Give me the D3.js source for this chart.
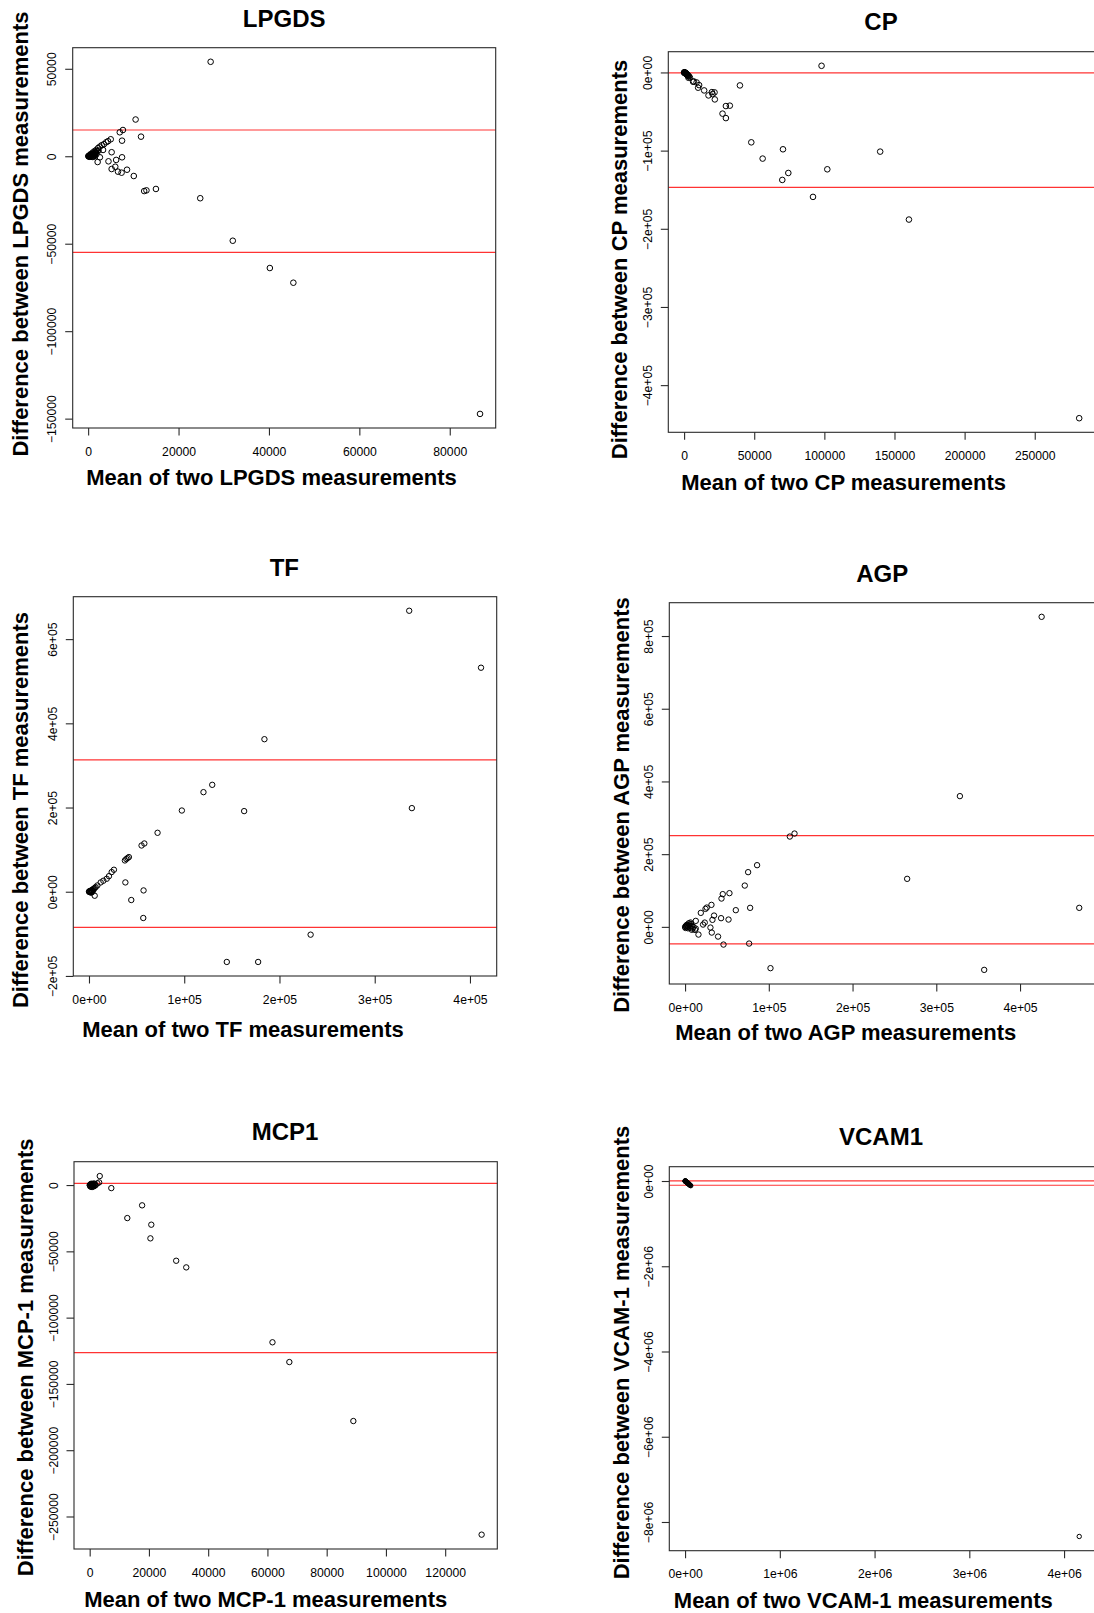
<!DOCTYPE html>
<html><head><meta charset="utf-8">
<script src="https://cdn.jsdelivr.net/npm/d3@7"></script>
<style>
html,body{margin:0;padding:0;background:#fff;}
svg{display:block;font-family:"Liberation Sans",Arial,Helvetica,sans-serif;}
</style></head>
<body><svg id="c" width="1094" height="1613"></svg>
<script>
// ---------- DATA: [mean of two measurements, difference] ----------
const lpgdsPoints = [[27100,54000],[10500,21000],[11700,11200],[7700,15000],[7000,13700],[7500,8900],[5000,9700],[4400,8600],[4000,8000],[3500,6900],[3000,6300],[2600,5500],[2200,4700],[1800,3600],[1400,2900],[1000,2100],[500,1100],[3300,3600],[5200,2300],[7500,-600],[2600,-600],[4500,-2900],[6200,-2100],[2100,-3300],[6000,-6000],[5200,-7300],[8600,-7700],[6600,-8800],[7400,-9400],[10100,-11300],[12400,-19900],[12900,-19500],[15000,-18700],[24800,-24000],[32000,-48300],[40200,-63900],[45400,-72300],[86700,-147300],
[100,100],[200,300],[300,200],[400,600],[500,400],[600,900],[700,500],[800,1200],[900,800],[1000,1400],[1100,1000],[1200,1700],[1300,1300],[1500,2000],[1600,1600],[1700,2400],[150,-200],[350,-300],[600,-100],[900,-400],[1200,-300],[1500,200],[1800,1000],[2000,2800],[2300,3200],[250,0],[50,50],[750,0],[1300,600]];
const cpPoints = [[98000,8500],[39800,-16600],[29800,-43000],[32600,-42500],[27400,-52700],[29800,-58400],[47900,-89400],[56000,-110200],[70500,-98300],[139800,-101300],[102100,-123900],[74300,-128600],[70000,-137500],[91900,-159200],[160300,-188200],[281700,-442300],[21900,-34500],[19800,-25200],[21700,-25500],[20300,-27700],[17400,-29400],[14300,-23000],[10000,-19500],[10700,-16200],[8900,-12800],[6900,-11500],[6400,-11900],[4100,-6400],[3100,-6800],
[0,0],[300,-300],[600,-600],[900,-1200],[1200,-1500],[1500,-2000],[1800,-2500],[2100,-3000],[2400,-3600],[2700,-4000],[200,200],[500,-100],[800,-500],[1000,-900],[1300,-1000],[1600,-1800],[2000,-2200],[2500,-3300],[3000,-4500],[3500,-5000],[100,-400],[700,-200],[1100,-700]];
const tfPoints = [[336200,667400],[411600,532100],[184200,362300],[129400,253900],[120200,236500],[97500,192900],[162900,191500],[339000,198600],[72000,140000],[58100,114600],[55200,109800],[41900,82300],[39200,77600],[37700,74300],[40500,80000],[26200,52200],[23800,46700],[21000,37000],[18600,30800],[15100,26100],[12300,22100],[8800,14900],[38200,22100],[57300,3100],[44400,-19700],[57000,-62400],[232700,-102000],[144700,-166800],[177600,-166800],[6000,-9500],
[0,0],[1000,1000],[2000,2500],[3000,4000],[4000,5500],[5000,7000],[1500,-1000],[2500,500],[3500,2000],[500,-500],[4500,3000],[6000,9000],[7000,11000],[500,1500],[2000,-2000],[3000,-1500]];
const agpPoints = [[425800,852800],[328200,359600],[265200,132100],[470700,52300],[357200,-118300],[102000,-113600],[130700,256700],[125100,248400],[86000,169700],[75300,150500],[71300,113600],[77700,52300],[76500,-45900],[45900,-48700],[53000,92700],[45000,90000],[43500,77900],[60600,45900],[51900,20100],[43000,23900],[31500,60500],[25900,53100],[24400,49500],[18800,38500],[34600,31100],[32700,19300],[23500,11800],[21500,6300],[12800,16500],[12800,-4700],[30300,-1900],[31900,-15700],[39400,-26700],[16000,-21200],[11900,-8300],
[0,0],[1000,2000],[2000,-1000],[3000,3000],[4000,1000],[5000,5000],[6000,-2000],[7000,8000],[8000,3000],[9000,-5000],[500,-3000],[1500,4000],[2500,6000],[3500,-4000],[4500,10000],[6500,12000],[8000,-8000],[10000,0]];
const mcp1Points = [[3400,6800],[7300,-2300],[17700,-15300],[12700,-24900],[20800,-29900],[20500,-40200],[29200,-57100],[32600,-62100],[61700,-118600],[67400,-133500],[89000,-178000],[132300,-263700],[2600,1300],[3200,2000],
[0,0],[300,500],[600,-500],[900,300],[1200,-800],[1500,600],[1800,-300],[200,-1000],[500,1000],[800,-1500],[1100,200],[1400,-1000],[1700,900],[2000,0],[100,-200],[400,-1200],[700,700],[1000,-400],[1300,1200]];
const vcamPoints = [[4160000,-8340000],
[0,0],[3000,-4000],[6000,-9000],[9000,-14000],[12000,-19000],[15000,-25000],[18000,-30000],[21000,-36000],[24000,-42000],[27000,-47000],[30000,-53000],[33000,-58000],[36000,-64000],[39000,-70000],[42000,-76000],[45000,-82000],[48000,-88000],[51000,-95000],[55000,-102000],[60000,-110000],[1500,-1000],[4500,-6000],[7500,-12000],[10500,-17000],[2000,2000],[5000,-2000],[8000,-8000],[13000,-16000],[20000,-28000],[26000,-40000],[35000,-55000]];

// limits of agreement (red lines)
const lpgdsLimits = [15000, -55000];
const cpLimits = [-500, -147000];
const tfLimits = [313000, -84700];
const agpLimits = [251200, -46800];
const mcp1Limits = [1200, -126400];
const vcamLimits = [5000, -100000];

// ticks
const lpgdsXTicks = [0,20000,40000,60000,80000];
const lpgdsXLabels = ["0","20000","40000","60000","80000"];
const lpgdsYTicks = [-150000,-100000,-50000,0,50000];
const lpgdsYLabels = ["\u2212150000","\u2212100000","\u221250000","0","50000"];
const cpXTicks = [0,50000,100000,150000,200000,250000];
const cpXLabels = ["0","50000","100000","150000","200000","250000"];
const cpYTicks = [-400000,-300000,-200000,-100000,0];
const cpYLabels = ["\u22124e+05","\u22123e+05","\u22122e+05","\u22121e+05","0e+00"];
const tfXTicks = [0,100000,200000,300000,400000];
const tfXLabels = ["0e+00","1e+05","2e+05","3e+05","4e+05"];
const tfYTicks = [-200000,0,200000,400000,600000];
const tfYLabels = ["\u22122e+05","0e+00","2e+05","4e+05","6e+05"];
const agpXTicks = [0,100000,200000,300000,400000];
const agpXLabels = ["0e+00","1e+05","2e+05","3e+05","4e+05"];
const agpYTicks = [0,200000,400000,600000,800000];
const agpYLabels = ["0e+00","2e+05","4e+05","6e+05","8e+05"];
const mcp1XTicks = [0,20000,40000,60000,80000,100000,120000];
const mcp1XLabels = ["0","20000","40000","60000","80000","100000","120000"];
const mcp1YTicks = [-250000,-200000,-150000,-100000,-50000,0];
const mcp1YLabels = ["\u2212250000","\u2212200000","\u2212150000","\u2212100000","\u221250000","0"];
const vcamXTicks = [0,1000000,2000000,3000000,4000000];
const vcamXLabels = ["0e+00","1e+06","2e+06","3e+06","4e+06"];
const vcamYTicks = [-8000000,-6000000,-4000000,-2000000,0];
const vcamYLabels = ["\u22128e+06","\u22126e+06","\u22124e+06","\u22122e+06","0e+00"];

// ---------- LAYOUT ----------
const panels = [
 {title:"LPGDS", xl:"Mean of two LPGDS measurements", yl:"Difference between LPGDS measurements",
  pts:lpgdsPoints, lim:lpgdsLimits, xt:lpgdsXTicks, xtl:lpgdsXLabels, yt:lpgdsYTicks, ytl:lpgdsYLabels,
  box:{l:72.7,t:47.7,r:495.7,b:428}, tp:[284.2,27], xp:[271.5,485], yp:[28.3,234], r:2.8},
 {title:"CP", xl:"Mean of two CP measurements", yl:"Difference between CP measurements",
  pts:cpPoints, lim:cpLimits, xt:cpXTicks, xtl:cpXLabels, yt:cpYTicks, ytl:cpYLabels,
  box:{l:668.3,t:51.7,r:1095,b:432.3}, tp:[881,30], xp:[843.7,490], yp:[626.7,259.5], r:2.8},
 {title:"TF", xl:"Mean of two TF measurements", yl:"Difference between TF measurements",
  pts:tfPoints, lim:tfLimits, xt:tfXTicks, xtl:tfXLabels, yt:tfYTicks, ytl:tfYLabels,
  box:{l:73.3,t:596.7,r:496.7,b:976}, tp:[284.3,575.7], xp:[243,1036.7], yp:[28.3,810], r:2.7},
 {title:"AGP", xl:"Mean of two AGP measurements", yl:"Difference between AGP measurements",
  pts:agpPoints, lim:agpLimits, xt:agpXTicks, xtl:agpXLabels, yt:agpYTicks, ytl:agpYLabels,
  box:{l:669.3,t:602.7,r:1095,b:984}, tp:[882.3,581.7], xp:[845.8,1040], yp:[629.3,805], r:2.7},
 {title:"MCP1", xl:"Mean of two MCP-1 measurements", yl:"Difference between MCP-1 measurements",
  pts:mcp1Points, lim:mcp1Limits, xt:mcp1XTicks, xtl:mcp1XLabels, yt:mcp1YTicks, ytl:mcp1YLabels,
  box:{l:74,t:1161.7,r:497.3,b:1549}, tp:[285,1140], xp:[265.8,1606.7], yp:[33.3,1357.3], r:2.7},
 {title:"VCAM1", xl:"Mean of two VCAM-1 measurements", yl:"Difference between VCAM-1 measurements",
  pts:vcamPoints, lim:vcamLimits, xt:vcamXTicks, xtl:vcamXLabels, yt:vcamYTicks, ytl:vcamYLabels,
  box:{l:669.3,t:1166.7,r:1095,b:1550.7}, tp:[881,1145], xp:[863.3,1608.3], yp:[629.3,1352.5], r:2.2}
];

const svg = d3.select("#c");
const pad = e => { const s = e[1]-e[0]; return [e[0]-0.04*s, e[1]+0.04*s]; };
const TICK = 7.5, TFS = "12.2px";

panels.forEach(p => {
  const g = svg.append("g");
  const b = p.box;
  const x = d3.scaleLinear().domain(pad(d3.extent(p.pts, d => d[0]))).range([b.l, b.r]);
  const y = d3.scaleLinear().domain(pad(d3.extent(p.pts, d => d[1]))).range([b.b, b.t]);

  // limit lines
  g.selectAll("line.lim").data(p.lim).join("line").attr("class","lim")
    .attr("x1", b.l).attr("x2", b.r).attr("y1", d => y(d)).attr("y2", d => y(d))
    .attr("stroke", "#ff0000").attr("stroke-opacity", 0.8).attr("stroke-width", 1.2);

  // points
  g.selectAll("circle").data(p.pts).join("circle")
    .attr("cx", d => x(d[0])).attr("cy", d => y(d[1])).attr("r", p.r)
    .attr("fill", "none").attr("stroke", "#000").attr("stroke-width", 1);

  // box
  g.append("rect").attr("x", b.l).attr("y", b.t).attr("width", b.r-b.l).attr("height", b.b-b.t)
    .attr("fill", "none").attr("stroke", "#2a2a2a").attr("stroke-width", 1.1);

  // x axis
  const gx = g.append("g").attr("transform", `translate(0,${b.b})`)
    .call(d3.axisBottom(x).tickValues(p.xt).tickFormat((d,i) => p.xtl[i]).tickSize(TICK).tickSizeOuter(0));
  gx.attr("font-size", null).attr("font-family", null);
  gx.select(".domain").remove();
  gx.selectAll(".tick line").attr("stroke", "#2a2a2a").attr("stroke-width", 1.1);
  gx.selectAll(".tick text").attr("y", 27.5).attr("dy", null)
    .style("font-size", TFS).attr("fill", "#000");

  // y axis
  const gy = g.append("g").attr("transform", `translate(${b.l},0)`)
    .call(d3.axisLeft(y).tickValues(p.yt).tickFormat((d,i) => p.ytl[i]).tickSize(TICK).tickSizeOuter(0));
  gy.attr("font-size", null).attr("font-family", null);
  gy.select(".domain").remove();
  gy.selectAll(".tick line").attr("stroke", "#2a2a2a").attr("stroke-width", 1.1);
  gy.selectAll(".tick text").attr("x", null).attr("dy", null)
    .attr("transform", "translate(-16.5,0) rotate(-90)")
    .attr("text-anchor", "middle").style("font-size", TFS).attr("fill", "#000");

  // title
  g.append("text").attr("x", p.tp[0]).attr("y", p.tp[1]).attr("text-anchor", "middle")
    .style("font-size", "24px").style("font-weight", "bold").text(p.title);
  // x label
  g.append("text").attr("x", p.xp[0]).attr("y", p.xp[1]).attr("text-anchor", "middle")
    .style("font-size", "22px").style("font-weight", "bold").text(p.xl);
  // y label
  g.append("text").attr("transform", `translate(${p.yp[0]},${p.yp[1]}) rotate(-90)`)
    .attr("text-anchor", "middle")
    .style("font-size", "22px").style("font-weight", "bold").text(p.yl);
});
</script>
</body></html>
